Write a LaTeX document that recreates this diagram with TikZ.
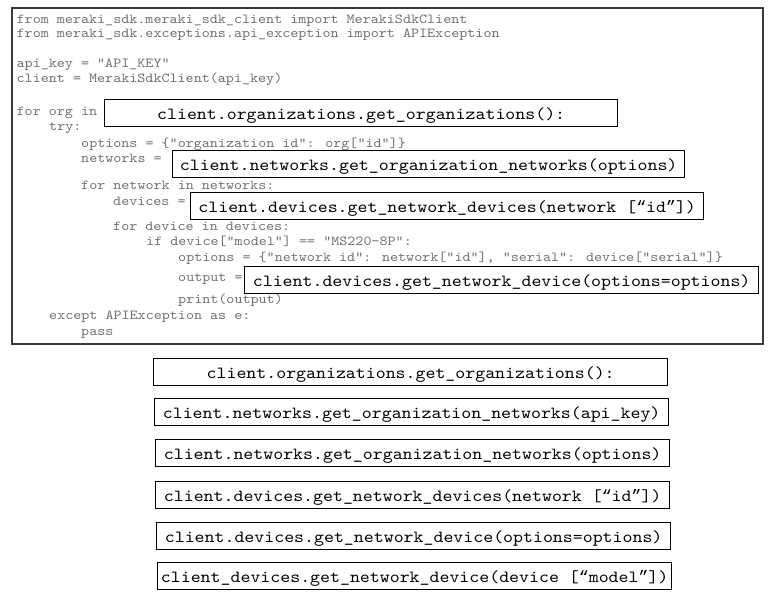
\documentclass[tikz,border=0pt]{standalone}
\usepackage{fontspec}
\newfontfamily\codefont{lmmono10-regular.otf}[FakeStretch=1.115]
\newfontfamily\quotefont{Liberation Mono}
\newcommand\myopenq{{\quotefont\fontsize{16.5}{18}\selectfont “}}
\newcommand\mycloseq{{\quotefont\fontsize{16.5}{18}\selectfont ”}}
\definecolor{codegray}{HTML}{707070}
\definecolor{framegray}{HTML}{3A3A3A}
\begin{document}
\begin{tikzpicture}[x=1pt,y=-1pt,
  code/.style={anchor=base west, inner sep=0pt, font=\codefont\fontsize{13.75}{14}\selectfont, text=codegray},
  callbox/.style={draw=black, line width=1.3pt, fill=white, anchor=north west, inner sep=0pt,
    text height=19.5pt, text depth=7.5pt, minimum width=#1,
    font=\codefont\fontsize{17}{18}\selectfont},
  framebox/.style={draw=framegray, line width=2pt, anchor=north west, inner sep=0pt}]
\fill[white] (0,0) rectangle (775,599);
\useasboundingbox (0,0) rectangle (775,599);
% outer frame
\node[framebox, minimum width=751pt, minimum height=336pt] (frame) at (11,7) {};
% code lines
\node[code] (l1) at (16.5,24) {from meraki\_sdk.meraki\_sdk\_client import MerakiSdkClient};
\node[code] (l2) at (16.5,38) {from meraki\_sdk.exceptions.api\_exception import APIException};
\node[code] (l3) at (16.5,68) {api\_key = "API\_KEY"};
\node[code] (l4) at (16.5,83) {client = MerakiSdkClient(api\_key)};
\node[code] (l5) at (16.5,115) {for org in};
\node[code] (l6) at (49,130) {try:};
\node[code] (l7) at (81,147) {options = \{"organization id": org["id"]\}};
\node[code] (l8) at (81,162) {networks =};
\node[code] (l9) at (81,189) {for network in networks:};
\node[code] (l10) at (113,205) {devices =};
\node[code] (l11) at (113,230) {for device in devices:};
\node[code] (l12) at (146,245) {if device["model"] == "MS220-8P":};
\node[code] (l13) at (178,261) {options = \{"network id": network["id"], "serial": device["serial"]\}};
\node[code] (l14) at (178,281) {output =};
\node[code] (l15) at (178,303) {print(output)};
\node[code] (l16) at (49,319) {except APIException as e:};
\node[code] (l17) at (81,335) {pass};
% callouts inside the code
\node[callbox=513pt] (c1) at (104,99) {client.organizations.get\_organizations():};
\node[callbox=512pt] (c2) at (172,150) {client.networks.get\_organization\_networks(options)};
\node[callbox=513pt] (c3) at (190,192) {client.devices.get\_network\_devices(network [\myopenq id\mycloseq])};
\node[callbox=514pt] (c4) at (244,266) {client.devices.get\_network\_device(options=options)};
% answer options
\node[callbox=514pt] (b1) at (153,358) {client.organizations.get\_organizations():};
\node[callbox=514pt] (b2) at (154,398) {client.networks.get\_organization\_networks(api\_key)};
\node[callbox=514pt] (b3) at (155,439) {client.networks.get\_organization\_networks(options)};
\node[callbox=514pt] (b4) at (155,481) {client.devices.get\_network\_devices(network [\myopenq id\mycloseq])};
\node[callbox=514pt] (b5) at (156,522) {client.devices.get\_network\_device(options=options)};
\node[callbox=514pt] (b6) at (157,562) {client\_devices.get\_network\_device(device [\myopenq model\mycloseq])};
\end{tikzpicture}
\end{document}
